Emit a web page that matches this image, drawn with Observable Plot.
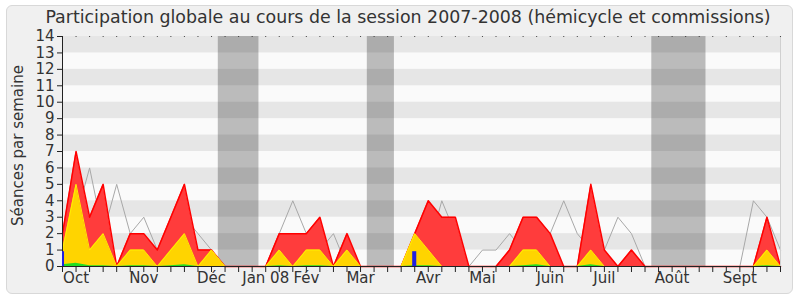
<!DOCTYPE html>
<html><head><meta charset="utf-8">
<script src="https://cdn.jsdelivr.net/npm/d3@7"></script>
<script src="https://cdn.jsdelivr.net/npm/@observablehq/plot@0.6"></script>
<style>
html,body{margin:0;padding:0;background:#fff;}
#wrap{position:relative;width:800px;height:300px;font-family:"DejaVu Sans",sans-serif;overflow:hidden;}
#box{position:absolute;left:6px;top:5px;width:785px;height:287px;background:#f0f0f0;border:1px solid #d8d8d8;border-radius:6px;}
#title{position:absolute;left:0;width:816px;top:7px;text-align:center;font-size:17.4px;color:#333;white-space:nowrap;}
#chart{position:absolute;left:0;top:0;}
</style></head><body>
<div id="wrap"><div id="box"></div><div id="title">Participation globale au cours de la session 2007-2008 (hémicycle et commissions)</div><div id="chart"></div></div>
<script>
// week index 0..53 (week 0 = first week of October 2007)
const weeks = d3.range(54);
// total presences (hémicycle + commissions), red
const totalValues = [2,7,3,5,0,2,2,1,3,5,1,1,0,0,0,0,2,2,2,3,0,2,0,0,0,0,2,4,3,3,0,0,0,1,3,3,2,0,0,5,1,0,1,0,0,0,0,0,0,0,0,0,3,0];
// hémicycle presences, yellow
const hemicycleValues = [1,5,1,2,0,1,1,0,1,2,0,1,0,0,0,0,1,0,1,1,0,1,0,0,0,0,2,1,0,0,0,0,0,0,1,1,0,0,0,1,0,0,0,0,0,0,0,0,0,0,0,0,1,0];
// median of all deputies, gray line
const medianValues = [1,3,6,2,5,2,3,1,2,3,2,1,0,0,0,0,2,4,2,1,2,0,0,0,0,0,0,1,4,2,0,1,1,2,1,3,2,4,2,1,1,3,2,0,0,0,0,0,0,0,0,4,3,1];
// interventions, green
const interventionValues = [0.1,0.2,0.05,0.05,0,0.05,0.05,0,0.05,0.1,0,0,0,0,0,0,0.05,0,0.05,0.05,0,0,0,0,0,0,0.05,0.05,0,0,0,0,0,0,0.05,0.1,0,0,0,0.1,0,0,0,0,0,0,0,0,0,0,0,0,0.05,0];
// oral questions, blue bars
const questionWeeks = [0, 26];
const questionValues = [0.9, 0.9];
// holidays (weeks without sessions)
const holidayStart = [12, 23, 44];
const holidayEnd = [14, 24, 47];
// axes
const yTicks = d3.range(0, 15);
const monthWeeks = [1, 6, 11, 15, 18, 22, 27, 31, 36, 40, 45, 50];
const monthLabels = ["Oct", "Nov", "Déc", "Jan 08", "Fév", "Mar", "Avr", "Mai", "Juin", "Juil", "Août", "Sept"];
const yLabel = "Séances par semaine";

const data = weeks.map((w, i) => ({w, total: totalValues[i], hemi: hemicycleValues[i], med: medianValues[i], green: interventionValues[i]}));
const questions = questionWeeks.map((w, i) => ({w, v: questionValues[i]}));
const holidays = holidayStart.map((s, i) => ({s, e: holidayEnd[i]}));
const stripes = d3.range(1, 14, 2);

const chart = Plot.plot({
  width: 800, height: 300,
  marginLeft: 62, marginRight: 20, marginTop: 36, marginBottom: 34,
  style: {background: "transparent", fontFamily: "DejaVu Sans, sans-serif", fontSize: "14px", color: "#333"},
  x: {domain: [0, 53]},
  y: {domain: [0, 14]},
  marks: [
    Plot.frame({fill: "#fafafa", stroke: null}),
    Plot.rect(stripes, {x1: 0, x2: 53, y1: d => d, y2: d => d + 1, fill: "#e6e6e6"}),
    Plot.rect(holidays, {x1: d => d.s - 0.5, x2: d => d.e + 0.5, y1: 0, y2: 14, fill: "#000", fillOpacity: 0.25}),
    Plot.lineY(data, {x: "w", y: "med", stroke: "#a8a8a8", strokeWidth: 1}),
    Plot.areaY(data, {x: "w", y: "total", fill: "#ff3c3c"}),
    Plot.lineY(data, {x: "w", y: "total", stroke: "#ff0000", strokeWidth: 1.5}),
    Plot.areaY(data, {x: "w", y: "hemi", fill: "#ffd400"}),
    Plot.lineY(data, {x: "w", y: "hemi", stroke: "#ffee00", strokeWidth: 1}),
    Plot.areaY(data, {x: "w", y: "green", fill: "#22dd22"}),
    Plot.ruleX([53], {stroke: "#d0d0d0"}),
    Plot.dot(weeks, {x: d => d, y: 14, r: 0.6, fill: "#333", stroke: null}),
    Plot.ruleX([0], {stroke: "#222"}),
    Plot.ruleY([0], {stroke: "#222"}),
    Plot.rect(questions, {x1: d => d.w - 0.15, x2: d => d.w + 0.15, y1: 0, y2: "v", fill: "#2020e0", clip: true}),
    Plot.axisY({ticks: yTicks, tickSize: 5, tickPadding: 3, label: null, fontSize: 15, stroke: "#222"}),
    Plot.axisX({ticks: weeks, tickSize: 6, tickFormat: () => "", label: null, stroke: "#222"}),
    Plot.axisX({ticks: monthWeeks, tickSize: 0, tickPadding: 6, tickFormat: d => monthLabels[monthWeeks.indexOf(d)], label: null, fontSize: 15}),
    Plot.text([yLabel], {frameAnchor: "left", textAnchor: "middle", rotate: -90, dx: -44, dy: -6, fontSize: 15, fill: "#333"})
  ]
});
document.getElementById("chart").appendChild(chart);
</script>
</body></html>
